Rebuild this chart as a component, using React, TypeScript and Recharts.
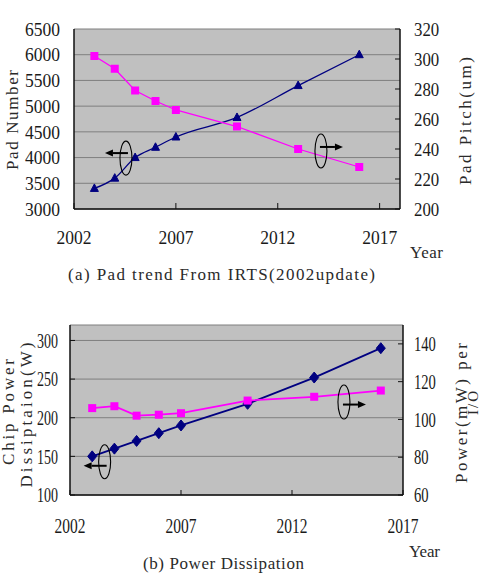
import React from 'react';
import {
  LineChart,
  Line,
  XAxis,
  YAxis,
  CartesianGrid,
  ReferenceDot,
} from 'recharts';

// ---- data ----
const years = [2003, 2004, 2005, 2006, 2007, 2010, 2013, 2016];

// (a) pad trend
const padNumber = [3400, 3600, 4000, 4200, 4400, 4780, 5400, 6000];
const padPitch = [302, 293.5, 279, 272, 266, 255, 240, 228];

// (b) power dissipation
const chipPower = [150, 160, 170, 180, 190, 218, 252, 290];
const powerPerIO = [106, 107, 102, 102.5, 103.3, 110, 112, 115.3];

// axis ticks
const yearTicks = [2002, 2007, 2012, 2017];
const padNumberTicks = [3000, 3500, 4000, 4500, 5000, 5500, 6000, 6500];
const padPitchTicks = [200, 220, 240, 260, 280, 300, 320];
const chipPowerTicks = [100, 150, 200, 250, 300];
const powerPerIOTicks = [60, 80, 100, 120, 140];

const padData = years.map((year, i) => ({
  year,
  padNumber: padNumber[i],
  padPitch: padPitch[i],
}));

const powerData = years.map((year, i) => ({
  year,
  chipPower: chipPower[i],
  powerPerIO: powerPerIO[i],
}));

// ---- styling ----
const SERIF = '"Liberation Serif", "DejaVu Serif", serif';
const NAVY = '#000080';
const MAGENTA = '#ff00ff';
const PLOT_BG = '#c0c0c0';
const GRID = '#7f7f7f';
const TEXT = '#1a1a1a';

const makeTick =
  (anchor: 'start' | 'middle' | 'end', size: number, perChar: number) =>
  (props: any) => {
    const { x, y, payload } = props;
    const label = String(payload.value);
    return (
      <text
        x={x}
        y={y}
        dy="0.36em"
        textAnchor={anchor}
        fontFamily={SERIF}
        fontSize={size}
        fill={TEXT}
        textLength={label.length * perChar}
        lengthAdjust="spacingAndGlyphs"
      >
        {label}
      </text>
    );
  };

const TriangleDot = (props: any) => {
  const { cx, cy } = props;
  if (cx == null || cy == null) return null;
  return (
    <polygon
      points={`${cx},${cy - 4.5} ${cx - 4},${cy + 3} ${cx + 4},${cy + 3}`}
      fill={NAVY}
      stroke={NAVY}
    />
  );
};

const SquareDot = (size: number) => (props: any) => {
  const { cx, cy } = props;
  if (cx == null || cy == null) return null;
  return (
    <rect
      x={cx - size / 2}
      y={cy - size / 2}
      width={size}
      height={size}
      fill={MAGENTA}
    />
  );
};

const DiamondDot = (props: any) => {
  const { cx, cy } = props;
  if (cx == null || cy == null) return null;
  return (
    <polygon
      points={`${cx},${cy - 5.5} ${cx + 4.5},${cy} ${cx},${cy + 5.5} ${cx - 4.5},${cy}`}
      fill={NAVY}
      stroke={NAVY}
    />
  );
};

// Ellipse with an arrow showing which axis a series belongs to
const AxisPointer =
  (dir: 'left' | 'right', dy: number) =>
  (props: any) => {
    const { cx, cy } = props;
    if (cx == null || cy == null) return null;
    const ay = cy + dy;
    const x0 = dir === 'left' ? cx + 2 : cx - 1;
    const tip = dir === 'left' ? cx - 21 : cx + 22;
    const back = dir === 'left' ? tip + 8 : tip - 8;
    return (
      <g>
        <ellipse cx={cx} cy={cy} rx={6} ry={17} fill="none" stroke="#000" strokeWidth={1.1} />
        <line x1={x0} y1={ay} x2={back} y2={ay} stroke="#000" strokeWidth={2} />
        <polygon points={`${tip},${ay} ${back},${ay - 3.5} ${back},${ay + 3.5}`} fill="#000" />
      </g>
    );
  };

const titleProps = {
  fontFamily: SERIF,
  fill: '#2a2a2a',
  lengthAdjust: 'spacing' as const,
};

const Titles = () => (
  <svg
    width={480}
    height={588}
    style={{ position: 'absolute', left: 0, top: 0, pointerEvents: 'none' }}
  >
    {/* (a) */}
    <text {...titleProps} fontSize={17} textAnchor="middle" dy="0.35em"
      transform="translate(12,120) rotate(-90)" textLength={100}>Pad Number</text>
    <text {...titleProps} fontSize={17} textAnchor="middle" dy="0.35em"
      transform="translate(465,121) rotate(-90)" textLength={128}>Pad Pitch(um)</text>
    <text {...titleProps} fontSize={17} x={410} y={258} textLength={33}>Year</text>
    <text {...titleProps} fontSize={17} x={68} y={280} textLength={307}>(a) Pad trend From IRTS(2002update)</text>

    {/* (b) */}
    <text {...titleProps} fontSize={17} textAnchor="middle" dy="0.35em"
      transform="translate(8,412) rotate(-90)" textLength={106}>Chip Power</text>
    <text {...titleProps} fontSize={17} textAnchor="middle" dy="0.35em"
      transform="translate(26,415) rotate(-90)" textLength={145}>Dissiptaion(W)</text>
    <text {...titleProps} fontSize={17} textAnchor="middle" dy="0.35em"
      transform="translate(461,413) rotate(-90)" textLength={140}>Power(mW) per</text>
    <text {...titleProps} fontSize={15} textAnchor="middle" dy="0.35em"
      transform="translate(473,403) rotate(-90)" textLength={24}>I/O</text>
    <text {...titleProps} fontSize={17} x={409} y={557} textLength={31}>Year</text>
    <text {...titleProps} fontSize={17} x={143} y={569} textLength={161}>(b) Power Dissipation</text>
  </svg>
);

const PadChart = () => (
  <div style={{ position: 'absolute', left: 0, top: 0 }}>
    <LineChart width={480} height={300} data={padData}
      margin={{ top: 29, right: 0, bottom: 0, left: 0 }}>
      <CartesianGrid xAxisId="x" yAxisId="left" vertical={false}
        fill={PLOT_BG} stroke={GRID} strokeWidth={1} />
      <XAxis xAxisId="x" dataKey="year" type="number" domain={[2002, 2018]}
        ticks={yearTicks} height={91} tickSize={-6} tickMargin={34}
        axisLine={{ stroke: '#111', strokeWidth: 1.5 }} tickLine={{ stroke: '#111' }}
        tick={makeTick('middle', 18.5, 8.75)} allowDataOverflow />
      <XAxis xAxisId="top" orientation="top" dataKey="year" type="number"
        domain={[2002, 2018]} height={0} tick={false} tickLine={false}
        axisLine={{ stroke: '#444', strokeWidth: 1.2 }} />
      <YAxis yAxisId="left" domain={[3000, 6500]} ticks={padNumberTicks}
        width={74} tickSize={0} tickMargin={14} tickLine={false}
        axisLine={{ stroke: '#111', strokeWidth: 1.5 }}
        tick={makeTick('end', 18.5, 8.75)} allowDataOverflow />
      <YAxis yAxisId="right" orientation="right" domain={[200, 320]}
        ticks={padPitchTicks} width={80} tickSize={-5} tickMargin={19}
        axisLine={{ stroke: '#111', strokeWidth: 1.5 }} tickLine={{ stroke: '#111' }}
        tick={makeTick('start', 18.5, 8.4)} allowDataOverflow />
      <Line xAxisId="x" yAxisId="left" type="monotone" dataKey="padNumber"
        stroke={NAVY} strokeWidth={1.3} dot={TriangleDot} activeDot={false}
        isAnimationActive={false} />
      <Line xAxisId="x" yAxisId="right" type="linear" dataKey="padPitch"
        stroke={MAGENTA} strokeWidth={1.3} dot={SquareDot(8)} activeDot={false}
        isAnimationActive={false} />
      <ReferenceDot xAxisId="x" yAxisId="left" x={2004.55} y={3990}
        shape={AxisPointer('left', -5)} />
      <ReferenceDot xAxisId="x" yAxisId="right" x={2014.12} y={238.7}
        shape={AxisPointer('right', -4)} />
    </LineChart>
  </div>
);

const PowerChart = () => (
  <div style={{ position: 'absolute', left: 0, top: 300 }}>
    <LineChart width={480} height={288} data={powerData}
      margin={{ top: 25, right: 0, bottom: 0, left: 0 }}>
      <CartesianGrid xAxisId="x" yAxisId="left" vertical={false}
        fill={PLOT_BG} stroke={GRID} strokeWidth={1} />
      <XAxis xAxisId="x" dataKey="year" type="number" domain={[2002, 2017]}
        ticks={yearTicks} height={93} tickSize={-5} tickMargin={36}
        axisLine={{ stroke: '#111', strokeWidth: 1.5 }} tickLine={{ stroke: '#111' }}
        tick={makeTick('middle', 20, 7.75)} allowDataOverflow />
      <XAxis xAxisId="top" orientation="top" dataKey="year" type="number"
        domain={[2002, 2017]} height={0} tick={false} tickLine={false}
        axisLine={{ stroke: '#444', strokeWidth: 1.2 }} />
      <YAxis yAxisId="left" domain={[100, 320]} ticks={chipPowerTicks}
        width={70} tickSize={-5} tickMargin={17}
        axisLine={{ stroke: '#111', strokeWidth: 1.5 }} tickLine={{ stroke: '#111' }}
        tick={makeTick('end', 20, 7)} allowDataOverflow />
      <YAxis yAxisId="right" orientation="right" domain={[60, 150]}
        ticks={powerPerIOTicks} width={77} tickSize={-5} tickMargin={16}
        axisLine={{ stroke: '#111', strokeWidth: 1.5 }} tickLine={{ stroke: '#111' }}
        tick={makeTick('start', 20, 7.3)} allowDataOverflow />
      <Line xAxisId="x" yAxisId="left" type="linear" dataKey="chipPower"
        stroke={NAVY} strokeWidth={1.8} dot={DiamondDot} activeDot={false}
        isAnimationActive={false} />
      <Line xAxisId="x" yAxisId="right" type="linear" dataKey="powerPerIO"
        stroke={MAGENTA} strokeWidth={1.8} dot={SquareDot(8)} activeDot={false}
        isAnimationActive={false} />
      <ReferenceDot xAxisId="x" yAxisId="left" x={2003.56} y={143}
        shape={AxisPointer('left', 4)} />
      <ReferenceDot xAxisId="x" yAxisId="right" x={2014.34} y={109.2}
        shape={AxisPointer('right', 2.5)} />
    </LineChart>
  </div>
);

export default function App() {
  return (
    <div
      style={{
        position: 'absolute',
        left: 0,
        top: 0,
        width: 480,
        height: 588,
        background: '#fff',
        overflow: 'hidden',
      }}
    >
      <PadChart />
      <PowerChart />
      <Titles />
    </div>
  );
}
